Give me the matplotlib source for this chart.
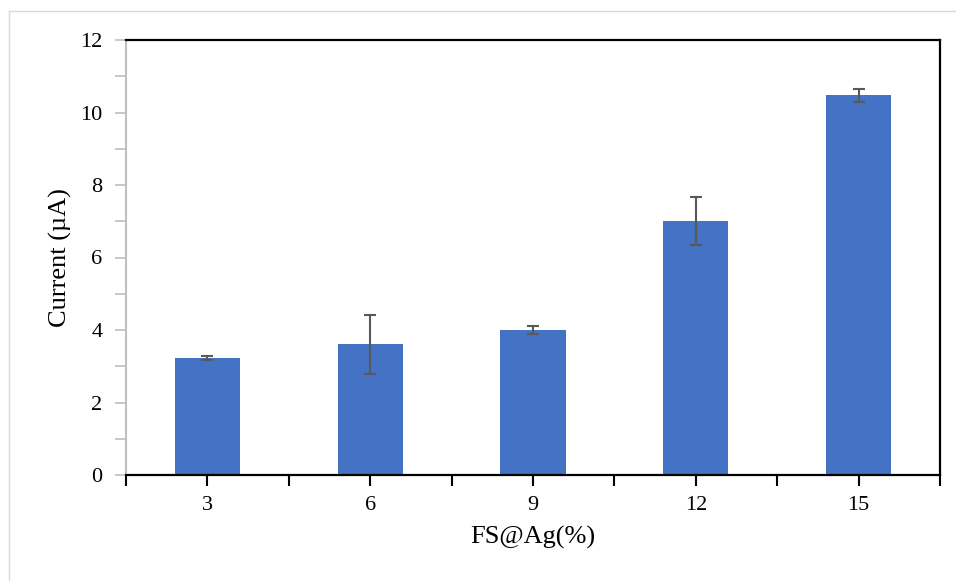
import matplotlib.pyplot as plt
from matplotlib.lines import Line2D
from matplotlib.ticker import MultipleLocator, FixedLocator

plt.rcParams['font.family'] = ['Liberation Serif', 'DejaVu Serif']

# FS@Ag loading (%) and measured current (uA) with standard deviation
cargas = ["3", "6", "9", "12", "15"]
corriente = [3.22, 3.61, 4.00, 7.00, 10.48]
desviacion = [0.05, 0.81, 0.11, 0.66, 0.18]

fig = plt.figure(figsize=(9.56, 5.81), dpi=100)
ax = fig.add_axes([126 / 956, 106 / 581, 814 / 956, 435 / 581])

pos = list(range(len(cargas)))
ax.bar(pos, corriente, width=0.4, color="#4472C4", zorder=2)
ax.errorbar(pos, corriente, yerr=desviacion, fmt="none", ecolor="#595959",
            elinewidth=1.5, capsize=4.3, capthick=1.5, zorder=3)

ax.set_xlim(-0.5, len(cargas) - 0.5)
ax.set_ylim(0, 12)
ax.set_xticks(pos)
ax.set_xticklabels(cargas)
ax.xaxis.set_minor_locator(FixedLocator([p - 0.5 for p in range(len(cargas) + 1)]))
ax.yaxis.set_major_locator(MultipleLocator(2))
ax.yaxis.set_minor_locator(MultipleLocator(1))

ax.tick_params(axis="x", which="both", direction="out", length=8, width=1.5,
               color="black", labelsize=16, pad=7)
ax.tick_params(axis="y", which="both", direction="out", length=8, width=1.2,
               color="#bfbfbf", labelsize=16, pad=9)

for lado in ["top", "right", "bottom"]:
    ax.spines[lado].set_color("black")
    ax.spines[lado].set_linewidth(1.6)
ax.spines["left"].set_color("#bfbfbf")
ax.spines["left"].set_linewidth(1.5)

ax.set_xlabel("FS@Ag(%)", fontsize=19, labelpad=8)
ax.set_ylabel("Current (µA)", fontsize=19, labelpad=6)

# thin grey frame of the chart area
fig.add_artist(Line2D([9 / 956, 1], [1 - 11 / 581, 1 - 11 / 581],
                      transform=fig.transFigure, color="#d9d9d9", lw=1))
fig.add_artist(Line2D([9 / 956, 9 / 956], [0, 1 - 11 / 581],
                      transform=fig.transFigure, color="#d9d9d9", lw=1))

fig.savefig("out.png", dpi=100)
